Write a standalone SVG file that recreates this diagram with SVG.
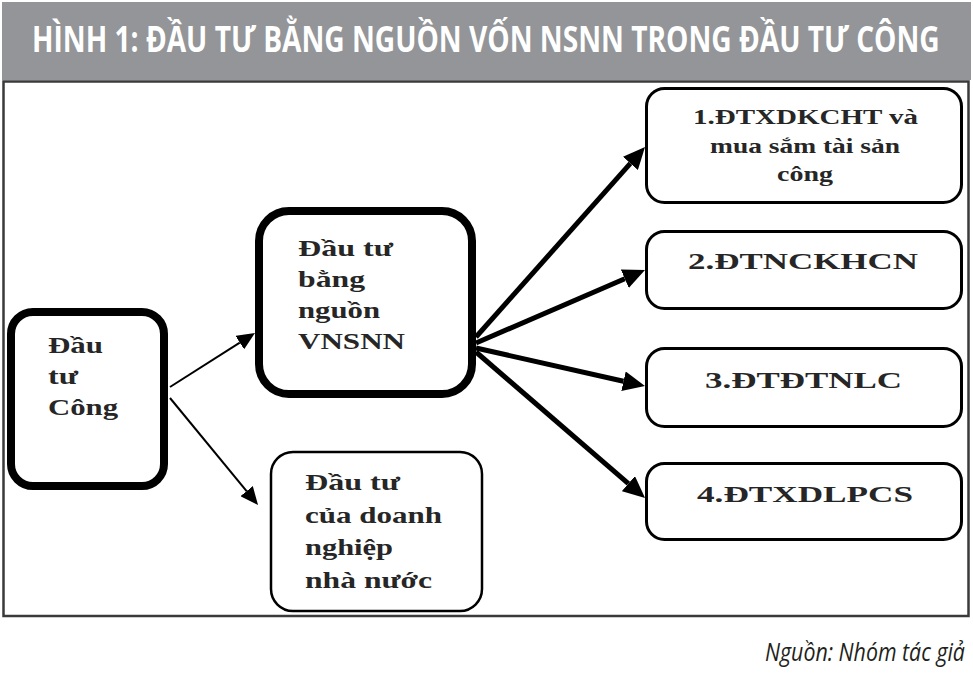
<svg xmlns="http://www.w3.org/2000/svg" width="973" height="681" viewBox="0 0 973 681">
<style>
.box{fill:#fff;stroke:#000}
.thick{stroke-width:8}
.thin{stroke-width:3}
.lbl{font-family:"Liberation Serif","Times New Roman",serif;font-weight:bold;fill:#262626}
.conn-thick{stroke:#000;stroke-width:5;fill:none}
.conn-thin{stroke:#000;stroke-width:2;fill:none}
</style>
<defs>
<marker id="ah" markerUnits="userSpaceOnUse" markerWidth="22" markerHeight="20" viewBox="0 0 22 20" refX="0" refY="10" orient="auto"><path d="M0,0 L22,10 L0,20 z" fill="#000"/></marker>
<marker id="ahs" markerUnits="userSpaceOnUse" markerWidth="18" markerHeight="16" viewBox="0 0 18 16" refX="0" refY="8" orient="auto"><path d="M0,0 L18,8 L0,16 z" fill="#000"/></marker>
</defs>
<rect x="0" y="0" width="973" height="681" fill="#fff"/>
<g id="title">
<rect x="2" y="2" width="969" height="78" fill="#939598"/>
<text transform="translate(32,52) scale(0.79,1)" x="0" y="0" font-family="'Open Sans','Liberation Sans',sans-serif" font-weight="bold" font-size="36" fill="#fff" textLength="1149" lengthAdjust="spacingAndGlyphs">HÌNH 1: ĐẦU TƯ BẰNG NGUỒN VỐN NSNN TRONG ĐẦU TƯ CÔNG</text>
</g>
<rect id="frame" x="3.5" y="81.5" width="965" height="534.5" fill="none" stroke="#3a3a3a" stroke-width="2.5"/>
<g id="connectors">
<line class="conn-thin" x1="170" y1="387" x2="239.8" y2="342.6" marker-end="url(#ahs)"/>
<line class="conn-thin" x1="170" y1="398" x2="246.6" y2="491.1" marker-end="url(#ahs)"/>
<line class="conn-thick" x1="476" y1="337" x2="630.4" y2="163.4" marker-end="url(#ah)"/>
<line class="conn-thick" x1="476" y1="343" x2="624.8" y2="278.7" marker-end="url(#ah)"/>
<line class="conn-thick" x1="476" y1="348" x2="623.5" y2="381.2" marker-end="url(#ah)"/>
<line class="conn-thick" x1="476" y1="352" x2="628.4" y2="483.6" marker-end="url(#ah)"/>
</g>
<g id="node-dau-tu-cong">
<rect class="box thick" x="11" y="312" width="153" height="174" rx="22"/>
<text class="lbl" font-size="24"><tspan x="48" y="353" textLength="55" lengthAdjust="spacingAndGlyphs">Đầu</tspan><tspan x="48" y="384" textLength="30" lengthAdjust="spacingAndGlyphs">tư</tspan><tspan x="48" y="415" textLength="70" lengthAdjust="spacingAndGlyphs">Công</tspan></text>
</g>
<g id="node-vnsnn">
<rect class="box thick" x="259" y="211" width="213" height="183" rx="30"/>
<text class="lbl" font-size="24"><tspan x="298" y="256" textLength="95" lengthAdjust="spacingAndGlyphs">Đầu tư</tspan><tspan x="298" y="287" textLength="67" lengthAdjust="spacingAndGlyphs">bằng</tspan><tspan x="298" y="318" textLength="82" lengthAdjust="spacingAndGlyphs">nguồn</tspan><tspan x="298" y="349" textLength="107" lengthAdjust="spacingAndGlyphs">VNSNN</tspan></text>
</g>
<g id="node-dnnn">
<rect class="box" stroke-width="2.5" x="271" y="452" width="211" height="159" rx="22"/>
<text class="lbl" font-size="24"><tspan x="305" y="490" textLength="95" lengthAdjust="spacingAndGlyphs">Đầu tư</tspan><tspan x="305" y="523" textLength="137" lengthAdjust="spacingAndGlyphs">của doanh</tspan><tspan x="305" y="555" textLength="88" lengthAdjust="spacingAndGlyphs">nghiệp</tspan><tspan x="305" y="588" textLength="127" lengthAdjust="spacingAndGlyphs">nhà nước</tspan></text>
</g>
<g id="node-1">
<rect class="box thin" x="646.5" y="88.5" width="315" height="114" rx="18"/>
<text class="lbl" font-size="22"><tspan x="693" y="124" textLength="225" lengthAdjust="spacingAndGlyphs">1.ĐTXDKCHT và</tspan><tspan x="710" y="153" textLength="190" lengthAdjust="spacingAndGlyphs">mua sắm tài sản</tspan><tspan x="777" y="181" textLength="56" lengthAdjust="spacingAndGlyphs">công</tspan></text>
</g>
<g id="node-2">
<rect class="box thin" x="646.5" y="231.5" width="315" height="77" rx="18"/>
<text class="lbl" font-size="24" x="688" y="269" textLength="230" lengthAdjust="spacingAndGlyphs">2.ĐTNCKHCN</text>
</g>
<g id="node-3">
<rect class="box thin" x="646.5" y="348.5" width="315" height="78" rx="18"/>
<text class="lbl" font-size="24" x="705" y="388" textLength="197" lengthAdjust="spacingAndGlyphs">3.ĐTĐTNLC</text>
</g>
<g id="node-4">
<rect class="box thin" x="646.5" y="463.5" width="315" height="76" rx="18"/>
<text class="lbl" font-size="24" x="697" y="502" textLength="216" lengthAdjust="spacingAndGlyphs">4.ĐTXDLPCS</text>
</g>
<text id="source" transform="translate(765,661) scale(0.84,1)" x="0" y="0" font-family="'Open Sans','Liberation Sans',sans-serif" font-style="italic" font-size="26" fill="#231f20" textLength="238" lengthAdjust="spacingAndGlyphs">Nguồn: Nhóm tác giả</text>
</svg>
